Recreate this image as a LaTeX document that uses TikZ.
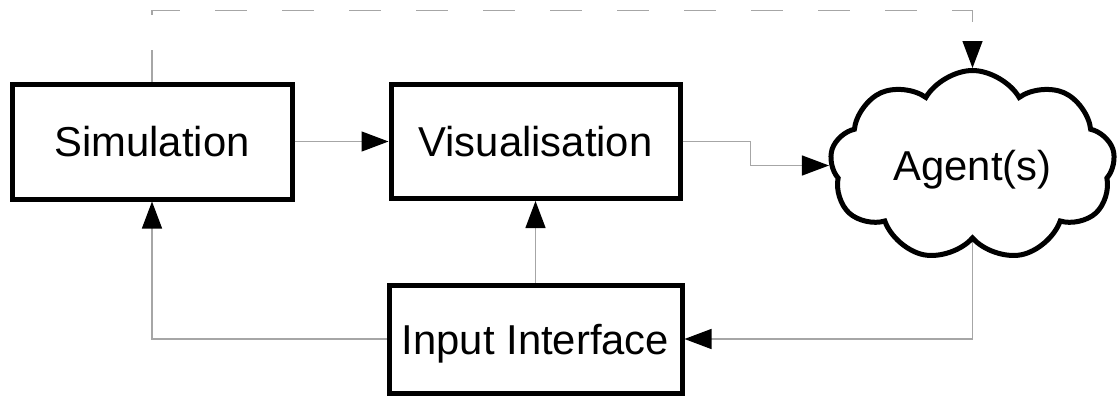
\documentclass[tikz,border=0pt]{standalone}
\usepackage{fontspec}
\setmainfont{Liberation Sans}
\usepackage{tikz}
\usetikzlibrary{arrows.meta, shapes.symbols}

\tikzset{
    block/.style={draw, line width=5pt, text depth=0pt, inner sep=0pt,
        font=\fontsize{41.8}{50}\selectfont},
    link/.style={draw=black!35, line width=1.3pt,
        -{Triangle[length=27pt, width=20pt, color=black]}},
}

\begin{document}
\begin{tikzpicture}[x=1pt,y=1pt,yscale=-1,xscale=1]
    \useasboundingbox (0,0) rectangle (1118,399);

    % Boxes
    \node [block, minimum width=280, minimum height=115] (sim) at (152,141.5) {Simulation};
    \node [block, minimum width=289, minimum height=114] (vis) at (535.5,141.5) {Visualisation};
    \node [block, minimum width=293, minimum height=108] (inp) at (535.5,339) {Input Interface};
    % Cloud
    \node [block, cloud, cloud puffs=9, cloud puff arc=120, aspect=1.5,
        minimum width=285, minimum height=190] (agent) at (972.5,165.5) {Agent(s)};

    % Connectors
    \draw [link] (sim) -- (vis);
    \draw [link] (vis.east) -- ++(68,0) |- (agent.west);
    \draw [link] (inp) -- (vis);
    \draw [link] (inp.west) -| (sim.south);
    \draw [link] (agent.south) |- (inp.east);
    \draw [link, dash pattern=on 32pt off 35pt] (sim.north) -- ++(0,-71) -| (agent.north);

\end{tikzpicture}
\end{document}
